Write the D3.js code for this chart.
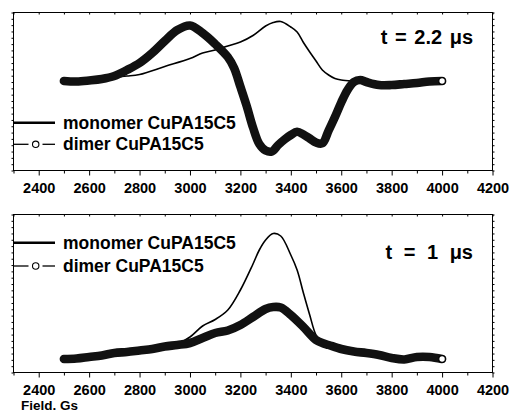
<!DOCTYPE html>
<html><head><meta charset="utf-8">
<script src="https://cdn.jsdelivr.net/npm/d3@7"></script>
<style>
body{margin:0;background:#fff;}
svg text{font-family:"Liberation Sans",Arial,sans-serif;font-weight:bold;fill:#000;}
</style></head>
<body><svg id="c" width="510" height="413"></svg>
<script>
// ---- data (field in Gs, signal in arbitrary units) ----
const xTickLabels = [2400,2600,2800,3000,3200,3400,3600,3800,4000,4200];
const seriesNames = ["monomer CuPA15C5","dimer CuPA15C5"];
const panelTitles = ["t = 2.2 \u03bcs","t = 1 \u03bcs"];

const topDimerField = [2500,2550,2600,2650,2700,2750,2800,2850,2900,2950,3000,3050,3100,3150,3175,3200,3225,3250,3275,3300,3325,3350,3375,3400,3425,3450,3475,3500,3525,3550,3575,3600,3625,3650,3675,3700,3750,3800,3850,3900,3950,4000];
const topDimerValue = [0,-0.05,0.05,0.2,0.5,1.1,1.8,2.8,4.0,5.1,5.55,4.8,3.7,2.4,1.3,-0.57,-2.5,-4.65,-6.3,-6.95,-7.05,-6.4,-5.85,-5.4,-5.07,-5.35,-5.75,-6.15,-6.23,-4.95,-3.6,-2.15,-0.9,-0.1,0.1,-0.1,-0.4,-0.4,-0.3,-0.2,-0.05,0];

const topMonoField = [2500,2600,2700,2750,2800,2900,3000,3050,3100,3150,3200,3250,3300,3330,3360,3400,3425,3450,3475,3500,3525,3550,3575,3600,3650,3700,3800,3900,4000];
const topMonoValue = [0,0.1,0.4,0.5,0.65,1.45,2.25,2.8,3.1,3.5,3.9,4.55,5.5,5.85,5.95,5.4,4.9,3.85,2.9,2.0,1.1,0.6,0.25,0.1,0,-0.05,-0.1,-0.05,0];

const botDimerField = [2500,2550,2600,2650,2700,2750,2800,2850,2900,2950,3000,3050,3100,3150,3200,3250,3300,3330,3360,3400,3450,3500,3525,3550,3600,3650,3700,3750,3800,3850,3900,3950,4000];
const botDimerValue = [1.3,1.35,1.5,1.65,1.9,2.0,2.15,2.3,2.55,2.7,2.9,3.4,3.9,4.15,4.7,5.5,6.3,6.5,6.45,5.7,4.5,3.2,2.9,2.7,2.3,2.05,1.9,1.7,1.4,1.25,1.5,1.5,1.3];

const botMonoField = [2500,2600,2700,2800,2900,2950,3000,3050,3100,3150,3200,3250,3275,3300,3330,3360,3400,3425,3450,3475,3500,3525,3550,3600,3700,3800,3900,4000];
const botMonoValue = [1.3,1.5,1.9,2.15,2.55,2.8,3.5,4.6,5.25,6.2,8.2,10.8,12.2,13.2,13.85,13.6,11.7,10.2,7.9,5.7,3.7,2.9,2.7,2.3,1.9,1.4,1.5,1.3];

// ---- layout ----
const svg = d3.select("#c");
const L = 13.5, R = 492.5;
const panels = [
  {top:12.5, bottom:170.5, dom:[-8.95,6.85], mono:[topMonoField,topMonoValue], dimer:[topDimerField,topDimerValue],
   title:panelTitles[0], titleY:44, titleWS:2, leg:[122.7,144.3], showField:false},
  {top:214.5, bottom:372.5, dom:[-0.05,15.75], mono:[botMonoField,botMonoValue], dimer:[botDimerField,botDimerValue],
   title:panelTitles[1], titleY:259, titleWS:6, leg:[242.7,266], showField:true}
];

const x = d3.scaleLinear().domain([2300,4200]).range([L,R]);

panels.forEach(p=>{
  const y = d3.scaleLinear().domain(p.dom).range([p.bottom,p.top]);
  const g = svg.append("g");

  const cid = "clip"+p.top;
  svg.append("clipPath").attr("id",cid).append("rect")
    .attr("x",L).attr("y",p.top).attr("width",R-L).attr("height",p.bottom-p.top);

  const line = d3.line().x(d=>x(d[0])).y(d=>y(d[1])).curve(d3.curveCatmullRom.alpha(0.5));
  const dimerPts = d3.zip(p.dimer[0],p.dimer[1]);
  const monoPts = d3.zip(p.mono[0],p.mono[1]);

  const plot = g.append("g").attr("clip-path","url(#"+cid+")");
  plot.append("path").datum(monoPts).attr("d",line)
    .attr("fill","none").attr("stroke","#000").attr("stroke-width",1.6);
  plot.append("path").datum(dimerPts).attr("d",line)
    .attr("fill","none").attr("stroke","#111").attr("stroke-width",8.6)
    .attr("stroke-linecap","round").attr("stroke-linejoin","round");
  const last = dimerPts[dimerPts.length-1];
  plot.append("circle").attr("cx",x(last[0])).attr("cy",y(last[1])).attr("r",3.3)
    .attr("fill","#fff").attr("stroke","#000").attr("stroke-width",1.2);

  g.append("rect").attr("x",L).attr("y",p.top).attr("width",R-L).attr("height",p.bottom-p.top)
    .attr("fill","none").attr("stroke","#000").attr("stroke-width",1);

  const minor = d3.range(2300,4201,100);
  const ax = g.append("g").attr("transform",`translate(0,${p.bottom})`)
    .call(d3.axisBottom(x).tickValues(xTickLabels).tickSize(5).tickPadding(7).tickFormat(d3.format("d")));
  ax.select(".domain").remove();
  ax.selectAll("text").attr("font-size","14.5px").attr("font-family","Liberation Sans, Arial, sans-serif").attr("font-weight","bold");
  const axm = g.append("g").attr("transform",`translate(0,${p.bottom})`)
    .call(d3.axisBottom(x).tickValues(minor.filter(v=>v%200!==0)).tickSize(3).tickFormat(""));
  axm.select(".domain").remove();
  const axt = g.append("g").attr("transform",`translate(0,${p.top})`)
    .call(d3.axisBottom(x).tickValues(minor).tickSize(2).tickFormat(""));
  axt.select(".domain").remove();
  const yt = d3.range(26).map(i=>p.dom[0]+i*(p.dom[1]-p.dom[0])/25);
  const al = g.append("g").attr("transform",`translate(${L},0)`)
    .call(d3.axisLeft(y).tickValues(yt).tickSize(2).tickFormat(""));
  al.select(".domain").remove();
  const ar = g.append("g").attr("transform",`translate(${R},0)`)
    .call(d3.axisRight(y).tickValues(yt).tickSize(2).tickFormat(""));
  ar.select(".domain").remove();
  g.selectAll(".tick line").attr("stroke","#000");

  g.append("text").attr("x",473).attr("y",p.titleY).attr("text-anchor","end")
    .attr("font-size","20px").attr("word-spacing",p.titleWS+"px").text(p.title);

  const lg = g.append("g");
  lg.append("line").attr("x1",L).attr("x2",55).attr("y1",p.leg[0]).attr("y2",p.leg[0])
    .attr("stroke","#000").attr("stroke-width",2.4);
  lg.append("text").attr("x",63).attr("y",p.leg[0]+6).attr("font-size","17.5px").text(seriesNames[0]);
  lg.append("line").attr("x1",L).attr("x2",28.5).attr("y1",p.leg[1]).attr("y2",p.leg[1])
    .attr("stroke","#000").attr("stroke-width",1.3);
  lg.append("line").attr("x1",42.5).attr("x2",55).attr("y1",p.leg[1]).attr("y2",p.leg[1])
    .attr("stroke","#000").attr("stroke-width",1.3);
  lg.append("circle").attr("cx",35.7).attr("cy",p.leg[1]).attr("r",3.2)
    .attr("fill","#fff").attr("stroke","#000").attr("stroke-width",1.1);
  lg.append("text").attr("x",63).attr("y",p.leg[1]+6).attr("font-size","17.5px").text(seriesNames[1]);

  if(p.showField){
    g.append("text").attr("x",21).attr("y",410).attr("font-size","13.5px").text("Field. Gs");
  }
});
</script></body></html>
